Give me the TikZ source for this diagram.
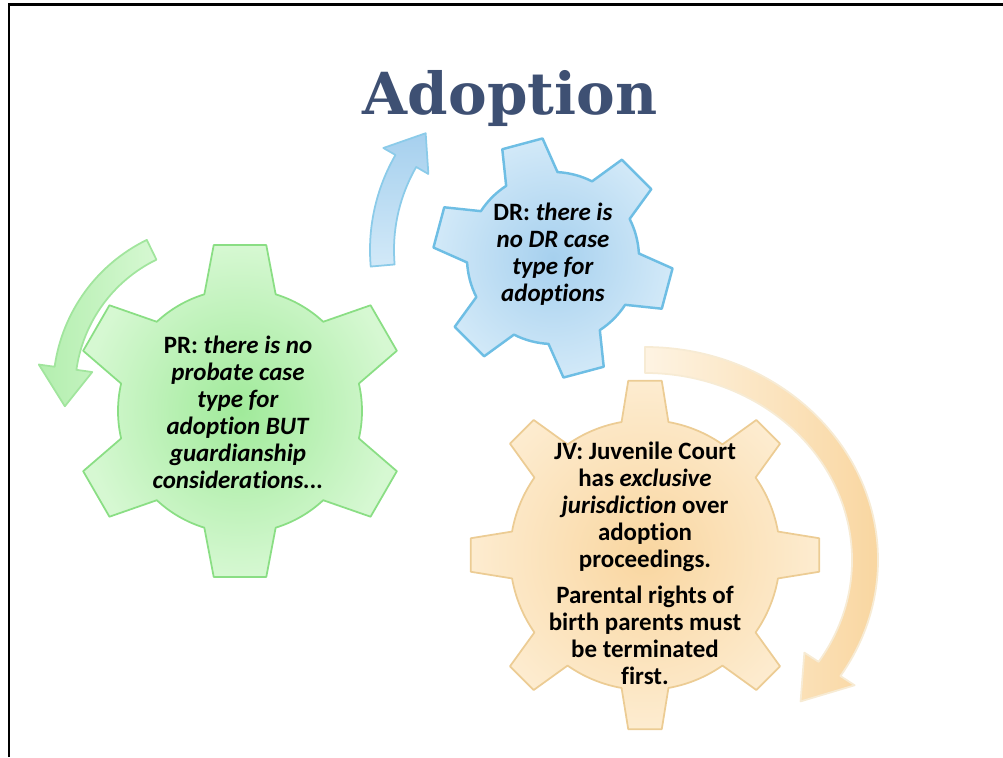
\documentclass[tikz,border=0pt]{standalone}
\usepackage{fontspec}
\setmainfont{Carlito}[Ligatures=NoCommon]
\newfontfamily\titlefont{DejaVu Serif}
\usepackage{tikz}

\definecolor{titleblue}{RGB}{62,80,115}
\definecolor{greenin}{RGB}{160,234,154}
\definecolor{greenout}{RGB}{214,248,210}
\definecolor{greenline}{RGB}{138,222,132}
\definecolor{bluein}{RGB}{166,208,238}
\definecolor{blueout}{RGB}{210,233,248}
\definecolor{blueline}{RGB}{110,190,228}
\definecolor{orangein}{RGB}{249,214,160}
\definecolor{orangeout}{RGB}{253,236,208}
\definecolor{orangeline}{RGB}{236,204,148}

\tikzset{
    normal/.style={line join=round, line width=1pt},
    greengear/.style={style=normal, draw=greenline, inner color=greenin, outer color=greenout},
    bluegear/.style={style=normal, draw=blueline, line width=1.4pt, inner color=bluein, outer color=blueout},
    orangegear/.style={style=normal, draw=orangeline, inner color=orangein, outer color=orangeout},
    greenarrow/.style={style=normal, draw=greenline!80, left color=greenin!80, right color=greenout},
    bluearrow/.style={style=normal, draw=blueline!80, bottom color=blueout, top color=bluein},
    orangearrow/.style={style=normal, draw=orangeline!40, left color=orangeout!60, right color=orangein},
    gearlabel/.style={align=center, font=\fontsize{14.2}{15.4}\selectfont\bfseries},
    title/.style={font=\titlefont\fontsize{33}{40}\selectfont\bfseries, text=titleblue}
}

% rin, rout, teeth, offset, half angle at base, half angle at tip
\newcommand{\gearpath}[6]{({#4-#5}:#1)
    \foreach \k [evaluate=\k as \t using {#4+(\k-1)*360/#3}] in {1,...,#3} {
        -- ({\t-#6}:#2) -- ({\t+#6}:#2) -- ({\t+#5}:#1)
        arc[start angle={\t+#5}, end angle={\t+360/#3-#5}, radius=#1]
    } -- cycle}

% rx, ry, half band, half head, start angle, head angle, tip angle
\newcommand{\arrowpath}[7]{({#5}:{#1+#3} and {#2+#3})
    arc[start angle=#5, end angle=#6, x radius=#1+#3, y radius=#2+#3]
    -- ({#6}:{#1+#4} and {#2+#4}) -- ({#7}:#1 and #2) -- ({#6}:{#1-#4} and {#2-#4})
    -- ({#6}:{#1-#3} and {#2-#3})
    arc[start angle=#6, end angle=#5, x radius=#1-#3, y radius=#2-#3] -- cycle}

\begin{document}
\begin{tikzpicture}[x=0.02cm, y=0.02cm]
    \useasboundingbox (0,0) rectangle (1003,757);
    \draw[line width=1.7pt] (9,0) -- (9,752) -- (1003,752);

    \node[title, anchor=base] (title) at (510,642) {Adoption};

    % arrows
    \shadedraw[greenarrow, shift={(220,367)}] \arrowpath{156}{156}{11}{27}{116}{172}{186};
    \shadedraw[bluearrow, shift={(560,507)}] \arrowpath{178}{178}{12}{26}{185}{150}{139};
    \shadedraw[orangearrow, shift={(645,197)}] \arrowpath{220}{200}{13}{30}{90}{-33}{-45};

    % gears
    \shadedraw[greengear, shift={(240,346)}] \gearpath{122}{168}{6}{90}{17}{9};
    \shadedraw[bluegear, shift={(553,499)}] \gearpath{86}{120}{6}{105}{18}{10};
    \shadedraw[orangegear, shift={(645,202)}] \gearpath{135}{175}{8}{90}{10}{5.5};

    \node[gearlabel] (pr_label) at (238,345) {PR: \textit{there is no}\\ \textit{probate case}\\ \textit{type for}\\ \textit{adoption BUT}\\ \textit{guardianship}\\ \textit{considerations...}};
    \node[gearlabel] (dr_label) at (553,503) {DR: \textit{there is}\\ \textit{no DR case}\\ \textit{type for}\\ \textit{adoptions}};
    \node[gearlabel] (jv_label) at (645,194) {JV: Juvenile Court\\ has \textit{exclusive}\\ \textit{jurisdiction} over\\ adoption\\ proceedings.\\[5pt] Parental rights of\\ birth parents must\\ be terminated\\ first.};
\end{tikzpicture}
\end{document}
